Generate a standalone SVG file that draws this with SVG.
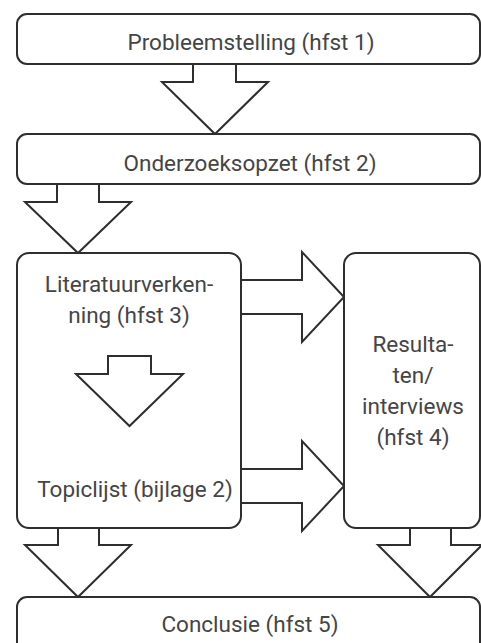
<svg xmlns="http://www.w3.org/2000/svg" width="481" height="643" viewBox="0 0 481 643">
<style>
.box{fill:#fff;stroke:#2e2e2e;stroke-width:2}
.arr{fill:#fff;stroke:#2e2e2e;stroke-width:2;stroke-linejoin:miter}
.t{font-family:Roboto,"Liberation Sans",sans-serif;font-size:22.5px;fill:#454545;text-anchor:middle}
</style>
<rect width="481" height="643" fill="#fff"/>
<g id="connectors">
<path class="arr" d="M193,64 V82 H162 L215,134 L268,82 H236 V64"/>
<path class="arr" d="M57,184 V202 H25 L78,253 L131,202 H99 V184"/>
<path class="arr" d="M241,280 H302 V252 L344,297 L302,342 V314 H241"/>
<path class="arr" d="M241,469 H302 V441 L344,486 L302,531 V503 H241"/>
<path class="arr" d="M58,528 V545 H25 L78,597 L131,545 H99 V528"/>
<path class="arr" d="M410,528 V545 H378 L430,597 L482,545 H451 V528"/>
</g>
<g id="n1"><rect class="box" x="17" y="14" width="463" height="50" rx="10"/><text class="t" x="251" y="50">Probleemstelling (hfst 1)</text></g>
<g id="n2"><rect class="box" x="17" y="134" width="463" height="50" rx="10"/><text class="t" x="250" y="171">Onderzoeksopzet (hfst 2)</text></g>
<g id="n3"><rect class="box" x="17" y="253" width="224" height="275" rx="12"/>
<text class="t" x="129" y="292">Literatuurverken-</text>
<text class="t" x="129" y="323">ning (hfst 3)</text>
<path class="arr" d="M108,356 H151 V374 H183 L129.5,426 L76,374 H108 Z"/>
<text class="t" x="135" y="497">Topiclijst (bijlage 2)</text></g>
<g id="n4"><rect class="box" x="344" y="253" width="136" height="275" rx="12"/>
<text class="t" x="413" y="352">Resulta-</text>
<text class="t" x="413" y="383">ten/</text>
<text class="t" x="413" y="414">interviews</text>
<text class="t" x="413" y="445">(hfst 4)</text></g>
<g id="n5"><rect class="box" x="17" y="597" width="463" height="60" rx="10"/><text class="t" x="250" y="632">Conclusie (hfst 5)</text></g>
</svg>
